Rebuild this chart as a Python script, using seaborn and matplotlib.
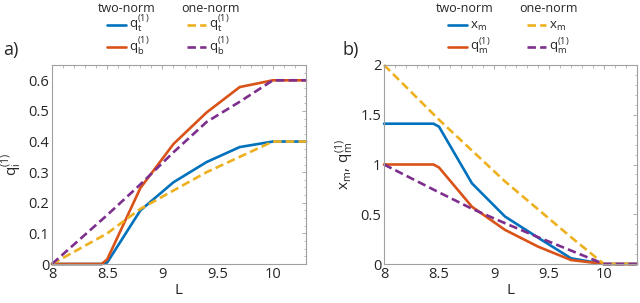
import numpy as np
import pandas as pd
import matplotlib
matplotlib.use("Agg")
import matplotlib.pyplot as plt
import matplotlib.ticker as mticker
from matplotlib.lines import Line2D
import seaborn as sns

sns.set_theme(style="white")
plt.rcParams.update({
    "font.family": ["Open Sans", "DejaVu Sans"],
    "mathtext.default": "regular",
    "font.size": 9.5,
})

# ── DATA ─────────────────────────────────────────────────────────────────────
L_two = [8, 8.45, 8.5, 8.8, 9.1, 9.4, 9.7, 10, 10.3]
L_one = [8, 8.5, 8.8, 9.1, 9.4, 9.7, 10, 10.3]

# panel a) q^(1)
qt_two = [0, 0, 0.005, 0.175, 0.267, 0.333, 0.382, 0.4, 0.4]
qb_two = [0, 0, 0.015, 0.248, 0.392, 0.495, 0.578, 0.6, 0.6]
qt_one = [0, 0.1, 0.18, 0.24, 0.3, 0.35, 0.4, 0.4]
qb_one = [0, 0.16, 0.26, 0.365, 0.464, 0.53, 0.6, 0.6]

# panel b) x_m, q_m^(1)
xm_two = [1.41, 1.41, 1.38, 0.81, 0.477, 0.265, 0.057, 0, 0]
qm_two = [1.0, 1.0, 0.97, 0.575, 0.343, 0.175, 0.04, 0, 0]
xm_one = [2, 1.45, 1.14, 0.83, 0.55, 0.27, 0, 0]
qm_one = [1, 0.72, 0.555, 0.41, 0.27, 0.135, 0, 0]

labels_a = [r"$q_t^{(1)}$", r"$q_b^{(1)}$"]
labels_b = [r"$x_m$", r"$q_m^{(1)}$"]

BLUE, ORANGE, YELLOW, PURPLE = "#0072BD", "#D95319", "#EDB120", "#7E2F8E"
DASH = (3.2, 1.6)
LW = 1.9
SPINE = "#a0a0a0"
TXT = "#262626"
W, H = 640, 303

fig = plt.figure(figsize=(6.4, 3.03), dpi=100)
ax1 = fig.add_axes([52/W, 39/H, 254/W, 199/H])
ax2 = fig.add_axes([384/W, 39/H, 253/W, 199/H])


def draw(ax, x, y, color, dashed=False):
    sns.lineplot(x=x, y=y, ax=ax, color=color, linewidth=LW, sort=False)
    ln = ax.lines[-1]
    if dashed:
        ln.set_dashes(DASH)
    ln.set_clip_on(False)
    return ln


draw(ax1, L_two, qt_two, BLUE)
draw(ax1, L_two, qb_two, ORANGE)
draw(ax1, L_one, qt_one, YELLOW, dashed=True)
draw(ax1, L_one, qb_one, PURPLE, dashed=True)

draw(ax2, L_two, xm_two, BLUE)
draw(ax2, L_two, qm_two, ORANGE)
draw(ax2, L_one, xm_one, YELLOW, dashed=True)
draw(ax2, L_one, qm_one, PURPLE, dashed=True)

for ax in (ax1, ax2):
    ax.set_xlim(8, 10.3)
    ax.xaxis.set_major_locator(mticker.MultipleLocator(0.5))
    ax.xaxis.set_major_formatter(mticker.FuncFormatter(lambda v, _: f"{v:g}"))
    ax.xaxis.set_minor_locator(mticker.MultipleLocator(0.1))
    ax.tick_params(which="both", direction="in", top=True, right=True,
                   colors=SPINE, labelcolor=TXT, labelsize=10.5)
    ax.tick_params(which="major", length=3, width=0.6, pad=2)
    ax.tick_params(which="minor", length=1.8, width=0.5)
    for s in ax.spines.values():
        s.set_color(SPINE)
        s.set_linewidth(0.8)
    ax.set_xlabel("L", fontsize=11, color=TXT, labelpad=1)

ax1.set_ylim(0, 0.65)
ax1.yaxis.set_major_locator(mticker.MultipleLocator(0.1))
ax1.yaxis.set_minor_locator(mticker.MultipleLocator(0.025))
ax1.yaxis.set_major_formatter(mticker.FuncFormatter(lambda v, _: f"{v:g}"))
ax1.set_ylabel(r"$q_i^{(1)}$", fontsize=11, color=TXT, labelpad=3)

ax2.set_ylim(0, 2)
ax2.yaxis.set_major_locator(mticker.MultipleLocator(0.5))
ax2.yaxis.set_minor_locator(mticker.MultipleLocator(0.1))
ax2.yaxis.set_major_formatter(mticker.FuncFormatter(lambda v, _: f"{v:g}"))
ax2.set_ylabel(r"$x_m,\, q_m^{(1)}$", fontsize=11, color=TXT, labelpad=3)

fig.text(3/W, 1 - 50/H, "a)", fontsize=13, va="center", ha="left", color=TXT)
fig.text(342/W, 1 - 50/H, "b)", fontsize=13, va="center", ha="left", color=TXT)


# ── LEGENDS (placed by hand, in figure pixels) ───────────────────────────────
def leg(title, labels, colors, dashed, cx, hx):
    fig.text(cx/W, 1 - 12/H, title, fontsize=9, ha="center", va="baseline",
             color=TXT)
    for lab, c, ly in zip(labels, colors, (25, 47)):
        ln = Line2D([hx/W, (hx + 19)/W], [1 - ly/H, 1 - ly/H],
                    transform=fig.transFigure, color=c, linewidth=LW)
        if dashed:
            ln.set_dashes(DASH)
        fig.add_artist(ln)
        fig.text((hx + 22)/W, 1 - (ly + 4)/H, lab, fontsize=9.5,
                 ha="left", va="baseline", color=TXT)


leg("two-norm", labels_a, [BLUE, ORANGE], False, 127, 107)
leg("one-norm", labels_a, [YELLOW, PURPLE], True, 210, 187)
leg("two-norm", labels_b, [BLUE, ORANGE], False, 465, 448)
leg("one-norm", labels_b, [YELLOW, PURPLE], True, 548, 527)

fig.savefig("out.png", dpi=100)
